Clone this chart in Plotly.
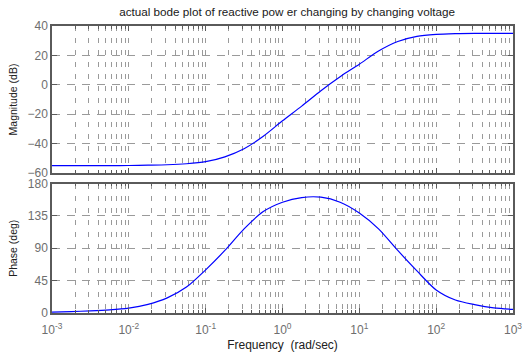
import plotly.graph_objects as go
from plotly.subplots import make_subplots

# Frequency points (rad/sec), quarter-decade spacing
freq = [1.000e-3, 1.778e-3, 3.162e-3, 5.623e-3,
        1.000e-2, 1.778e-2, 3.162e-2, 5.623e-2,
        1.000e-1, 1.778e-1, 3.162e-1, 5.623e-1,
        1.000e0, 1.778e0, 3.162e0, 5.623e0,
        1.000e1, 1.778e1, 3.162e1, 5.623e1,
        1.000e2, 1.778e2, 3.162e2, 5.623e2,
        1.000e3]

magnitude_db = [-55.0, -55.0, -55.0, -55.0,
                -54.9, -54.7, -54.4, -53.7,
                -52.3, -49.0, -43.5, -35.0,
                -24.5, -14.5, -4.0, 5.5,
                14.0, 23.0, 29.5, 33.0,
                34.3, 34.8, 35.0, 35.0,
                35.0]

phase_deg = [1.3, 2.0, 2.9, 4.3,
             6.8, 12.0, 21.0, 36.0,
             60.0, 87.0, 117.0, 141.0,
             154.0, 160.5, 161.0, 154.0,
             139.0, 117.0, 87.0, 58.5,
             32.0, 18.0, 11.6, 7.1,
             5.0]

mag_ticks = [-60, -40, -20, 0, 20, 40]
phase_ticks = [0, 45, 90, 135, 180]
x_tickvals = [1e-3, 1e-2, 1e-1, 1e0, 1e1, 1e2, 1e3]
x_ticktext = ["10<sup>-3</sup>", "10<sup>-2</sup>", "10<sup>-1</sup>", "10<sup>0</sup>",
              "10<sup>1</sup>", "10<sup>2</sup>", "10<sup>3</sup>"]

title_text = "actual bode plot of reactive pow er changing by changing voltage"

fig = make_subplots(rows=2, cols=1, shared_xaxes=False, vertical_spacing=0.04)

line_style = dict(color="#0000ff", width=1.2, shape="spline", smoothing=0.8)
fig.add_trace(go.Scatter(x=freq, y=magnitude_db, mode="lines", line=line_style,
                         showlegend=False, hoverinfo="skip"), row=1, col=1)
fig.add_trace(go.Scatter(x=freq, y=phase_deg, mode="lines", line=line_style,
                         showlegend=False, hoverinfo="skip"), row=2, col=1)

font_family = "Liberation Sans, Arial, sans-serif"
grid_col = "#9a9a9a"
frame_col = "#5a5a5a"
tick_font = dict(family=font_family, size=12, color="#6e6e6e")

common_x = dict(type="log", range=[-3, 3], showline=True, mirror="ticks",
                linecolor=frame_col, linewidth=1.5, ticks="inside", ticklen=5,
                tickcolor=frame_col, showgrid=True, gridcolor=grid_col,
                griddash="5px,7px", gridwidth=1, zeroline=False,
                tickvals=x_tickvals, automargin=False, ticklabeloverflow="allow",
                minor=dict(ticks="inside", ticklen=3, tickcolor=frame_col,
                           showgrid=True, gridcolor=grid_col, griddash="5px,7px",
                           gridwidth=1, dtick="D1"),
                tickfont=tick_font)

fig.update_xaxes(**common_x, showticklabels=False, row=1, col=1)
fig.update_xaxes(**common_x, ticktext=x_ticktext, showticklabels=True,
                 ticklabelstandoff=5,
                 title=dict(text="Frequency  (rad/sec)",
                            font=dict(family=font_family, size=12, color="#202020"),
                            standoff=5),
                 row=2, col=1)

common_y = dict(showline=True, mirror="ticks", linecolor=frame_col, linewidth=1.5,
                ticks="inside", ticklen=5, tickcolor=frame_col, showgrid=True,
                gridcolor=grid_col, griddash="8px,7px", gridwidth=1, zeroline=False,
                tickfont=tick_font, automargin=False, ticklabeloverflow="allow")

fig.update_yaxes(**common_y, range=[-60, 40], tickvals=mag_ticks,
                 title=dict(text="Magnitude (dB)",
                            font=dict(family=font_family, size=10.5, color="#202020"),
                            standoff=8),
                 row=1, col=1)
fig.update_yaxes(**common_y, range=[0, 180], tickvals=phase_ticks,
                 title=dict(text="Phase (deg)",
                            font=dict(family=font_family, size=10.5, color="#202020"),
                            standoff=8),
                 row=2, col=1)

fig.update_layout(
    width=522, height=352,
    margin=dict(l=52, r=9, t=26, b=39, autoexpand=False),
    paper_bgcolor="white", plot_bgcolor="white",
    title=dict(text=title_text, x=0.55, xanchor="center", y=0.978, yanchor="top",
               font=dict(family=font_family, size=11.7, color="#202020")),
)
fig.layout.yaxis.domain = [0.4878, 1.0]
fig.layout.yaxis2.domain = [0.0, 0.4512]

fig.write_html("out.html")
